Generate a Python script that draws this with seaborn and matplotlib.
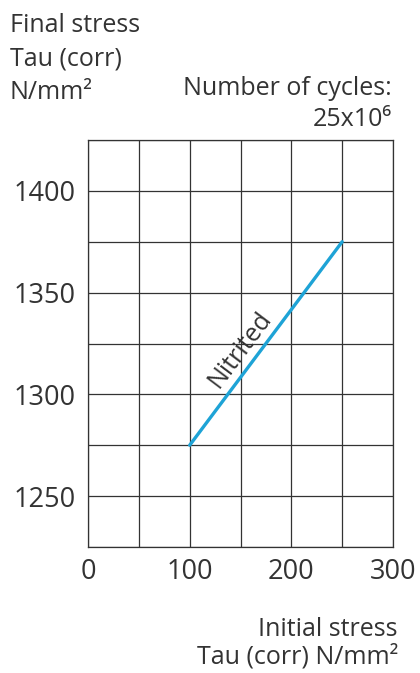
import matplotlib
matplotlib.use("Agg")
import matplotlib.pyplot as plt
import seaborn as sns
import pandas as pd
from matplotlib.ticker import MultipleLocator

# Data
initial_stress = [100, 250]
final_stress = [1275, 1375]
series_label = "Nitrited"
x_ticks = [0, 100, 200, 300]
y_ticks = [1250, 1300, 1350, 1400]

sns.set_theme(style="white")
plt.rcParams['font.family'] = ['Open Sans', 'DejaVu Sans']
TXT = "#333333"
GRID = "#333333"
FS = 18

fig = plt.figure(figsize=(4.2, 6.73), dpi=100)
ax = fig.add_axes([88/420, 1-547/673, 305/420, 407/673])

df = pd.DataFrame({"x": initial_stress, "y": final_stress})
sns.lineplot(data=df, x="x", y="y", ax=ax, color="#1ea3d6", linewidth=2.4)

ax.set_xlim(0, 300)
ax.set_ylim(1225, 1425)
ax.set_xticks(x_ticks)
ax.set_yticks(y_ticks)
ax.xaxis.set_minor_locator(MultipleLocator(50))
ax.yaxis.set_minor_locator(MultipleLocator(25))
ax.grid(True, which="both", color=GRID, linewidth=0.9)
ax.set_axisbelow(True)
for s in ax.spines.values():
    s.set_color(GRID)
    s.set_linewidth(0.9)
ax.tick_params(axis="both", which="both", length=0, colors=TXT, labelsize=19.5)
ax.tick_params(axis="x", pad=8)
ax.tick_params(axis="y", pad=9)
ax.set_xlabel("")
ax.set_ylabel("")

ax.text(150, 1322, series_label, rotation=53, rotation_mode="anchor",
        ha="center", va="center", fontsize=18, color=TXT)

fig.text(10/420, 1-32/673, "Final stress", fontsize=FS, color=TXT, ha="left", va="baseline")
fig.text(10/420, 1-65/673, "Tau (corr)", fontsize=FS, color=TXT, ha="left", va="baseline")
fig.text(10/420, 1-99/673, "N/mm²", fontsize=FS, color=TXT, ha="left", va="baseline")
fig.text(392/420, 1-95/673, "Number of cycles:", fontsize=FS, color=TXT, ha="right", va="baseline")
fig.text(392/420, 1-126/673, "25x10⁶", fontsize=FS, color=TXT, ha="right", va="baseline")
fig.text(398/420, 1-636/673, "Initial stress", fontsize=FS, color=TXT, ha="right", va="baseline")
fig.text(398/420, 1-664/673, "Tau (corr) N/mm²", fontsize=FS, color=TXT, ha="right", va="baseline")

fig.savefig("out.png", dpi=100, facecolor="white")
